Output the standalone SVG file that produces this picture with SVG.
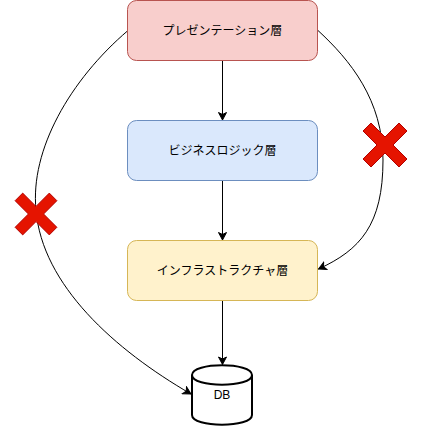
<svg xmlns="http://www.w3.org/2000/svg" width="421" height="426" viewBox="0 0 421 426">
<style>
.box{stroke-width:1}
.lbl{font-family:"Liberation Sans","Noto Sans CJK JP",sans-serif;font-size:12px;fill:#000;text-anchor:middle}
.edge{fill:none;stroke:#000;stroke-width:1}
.redx{fill:#e51400;stroke:#b20000;stroke-width:1}
</style>
<defs>
<marker id="arr" markerUnits="userSpaceOnUse" markerWidth="10" markerHeight="10" viewBox="-8 -5 9 10" refX="0" refY="0" orient="auto">
<path d="M0,0 L-7.5,-4 L-5.5,0 L-7.5,4 Z" fill="#000" stroke="#000" stroke-width="1"/>
</marker>
<polygon id="xshape" points="-22,-14 -14,-22 0,-8 14,-22 22,-14 8,0 22,14 14,22 0,8 -14,22 -22,14 -8,0"/>
</defs>
<rect width="421" height="426" fill="#fff"/>
<g id="connectors">
<path class="edge" d="M222.5,60.5 L222.5,120" marker-end="url(#arr)"/>
<path class="edge" d="M222.5,180.5 L222.5,240" marker-end="url(#arr)"/>
<path class="edge" d="M222.5,300.5 L222.5,364.5" marker-end="url(#arr)"/>
<path class="edge" d="M128,30.5 C70,80 30,150 36,210 C42,285 115,350 191,394" marker-end="url(#arr)"/>
<path class="edge" d="M318,30.5 C350,60 383,100 383,160 C383,225 360,250 318.5,269" marker-end="url(#arr)"/>
</g>
<g id="presentation">
<rect class="box" x="127.5" y="0.5" width="190" height="60" rx="9" fill="#f8cecc" stroke="#b85450"/>
<text class="lbl" x="222.5" y="34.5">プレゼンテーション層</text>
</g>
<g id="business">
<rect class="box" x="127.5" y="120.5" width="190" height="60" rx="9" fill="#dae8fc" stroke="#6c8ebf"/>
<text class="lbl" x="222.5" y="154.5">ビジネスロジック層</text>
</g>
<g id="infra">
<rect class="box" x="127.5" y="240.5" width="190" height="60" rx="9" fill="#fff2cc" stroke="#d6b656"/>
<text class="lbl" x="222.5" y="274.5">インフラストラクチャ層</text>
</g>
<g id="db">
<path d="M192,375 C192,362 252,362 252,375 L252,415 C252,428 192,428 192,415 Z" fill="#fff" stroke="#000" stroke-width="2"/>
<path d="M192,375 C192,388 252,388 252,375" fill="none" stroke="#000" stroke-width="2"/>
<text class="lbl" x="222" y="399">DB</text>
</g>
<g id="xmark-left">
<use href="#xshape" class="redx" transform="translate(36,214) scale(0.95)"/>
</g>
<g id="xmark-right">
<use href="#xshape" class="redx" transform="translate(385,145)"/>
</g>
</svg>
